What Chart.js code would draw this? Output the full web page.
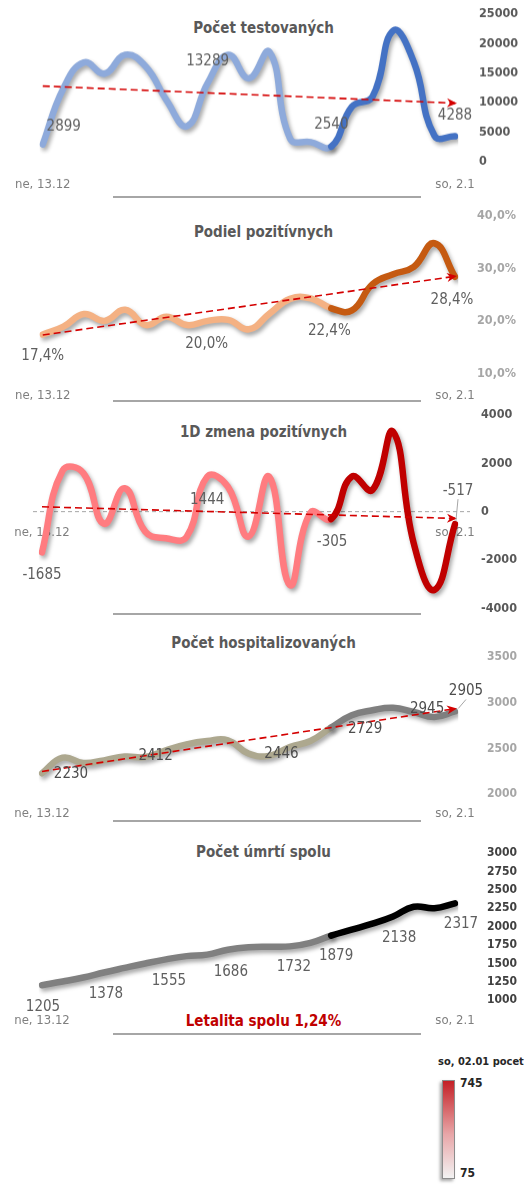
<!DOCTYPE html>
<html lang="sk">
<head>
<meta charset="utf-8">
<title>Prehľad 13.12 – 2.1</title>
<script src="https://cdn.jsdelivr.net/npm/chart.js@4"></script>
<style>
  html, body { margin: 0; padding: 0; background: #fff; }
  body { width: 532px; height: 1185px; position: relative; overflow: hidden;
         font-family: "DejaVu Sans Condensed", "DejaVu Sans", sans-serif; }
  .panel { position: absolute; left: 0; width: 532px; }
  .title { position: absolute; left: 0; width: 527px; text-align: center; font-weight: bold;
           font-size: 15px; line-height: 18px; color: #595959; }
  .sep { position: absolute; left: 113px; width: 308px; height: 2px; background: #a6a6a6; }
  #lethality { position: absolute; left: 0; width: 527px; top: 1012px; text-align: center;
               font-weight: bold; font-size: 15px; line-height: 18px; color: #c00000; }
  #legend-title { position: absolute; left: 438px; top: 1055px; font-size: 11px; line-height: 14px;
                  font-weight: bold; color: #262626; white-space: nowrap; }
  #legend-bar { position: absolute; left: 442px; top: 1080px; width: 11px; height: 97px;
                border: 1px solid #8c8c8c; box-shadow: -2px 2px 3px rgba(0,0,0,0.35);
                background: linear-gradient(to bottom, #c42026, #e8a6a8 55%, #f2f2f2); }
  .legend-val { position: absolute; left: 460px; font-size: 12px; line-height: 14px;
                font-weight: bold; color: #262626; }
</style>
</head>
<body>

<div class="title" style="top:19px">Počet testovaných</div>
<div class="title" style="top:223px">Podiel pozitívnych</div>
<div class="title" style="top:423px">1D zmena pozitívnych</div>
<div class="title" style="top:634px">Počet hospitalizovaných</div>
<div class="title" style="top:843px">Počet úmrtí spolu</div>

<div class="sep" style="top:196px"></div>
<div class="sep" style="top:400px"></div>
<div class="sep" style="top:613px"></div>
<div class="sep" style="top:820px"></div>
<div class="sep" style="top:1033px"></div>

<div id="lethality"></div>
<div id="legend-title"></div>
<div id="legend-bar"></div>
<div class="legend-val" id="legend-max" style="top:1076px"></div>
<div class="legend-val" id="legend-min" style="top:1166px"></div>

<script>
// days shown on the x axis (only first and last get a label)
const days = ["ne, 13.12", "po, 14.12", "ut, 15.12", "st, 16.12", "št, 17.12", "pi, 18.12", "so, 19.12",
  "ne, 20.12", "po, 21.12", "ut, 22.12", "st, 23.12", "št, 24.12", "pi, 25.12", "so, 26.12",
  "ne, 27.12", "po, 28.12", "ut, 29.12", "st, 30.12", "št, 31.12", "pi, 1.1", "so, 2.1"];

const tested = [2899, 12400, 16800, 14900, 18100, 16100, 10400, 6000, 13289, 18100, 14100,
  18600, 3900, 3300, 2540, 9300, 11000, 22200, 16900, 4400, 4288];
const testedTrend = [12800, 9900];
const testedTicks = [0, 5000, 10000, 15000, 20000, 25000];

const positiveShare = [17.4, 18.9, 21.3, 20.0, 22.1, 19.2, 20.8, 19.2, 20.0, 20.2, 18.4,
  21.4, 24.2, 24.3, 22.4, 22.0, 27.0, 28.9, 30.3, 34.8, 28.4];
const positiveShareTrend = [17.3, 28.5];
const positiveShareTicks = [10, 20, 30, 40];

const positiveChange = [-1685, 1700, 1600, -500, 966, -828, -1100, -1050, 1444, 1035, -1034,
  1449, -3034, -41, -305, 1449, 898, 3311, -1308, -3241, -517];
const positiveChangeTrend = [200, -280];
const positiveChangeTicks = [-4000, -2000, 0, 2000, 4000];

const hospitalized = [2230, 2400, 2342, 2371, 2412, 2407, 2481, 2546, 2582, 2590, 2446,
  2420, 2517, 2582, 2729, 2863, 2918, 2945, 2899, 2845, 2905];
const hospitalizedTrend = [2250, 2935];
const hospitalizedTicks = [2000, 2500, 3000, 3500];

const deaths = [1205, 1255, 1310, 1378, 1440, 1500, 1555, 1600, 1620, 1686, 1720,
  1728, 1732, 1780, 1879, 1960, 2040, 2138, 2270, 2250, 2317];
const deathsTicks = [1000, 1250, 1500, 1750, 2000, 2250, 2500, 2750, 3000];

const lethality = "1,24%";
const legendCaption = "so, 02.01 pocet";
const legendMax = 745;
const legendMin = 75;

document.getElementById("lethality").textContent = "Letalita spolu " + lethality;
document.getElementById("legend-title").textContent = legendCaption;
document.getElementById("legend-max").textContent = legendMax;
document.getElementById("legend-min").textContent = legendMin;

const FONT = '"DejaVu Sans Condensed", "DejaVu Sans", sans-serif';
Chart.defaults.font.family = FONT;

const lastIdx = days.length - 1;
const SPLIT = 14; // last week (from ne, 27.12) is drawn darker

const fmtInt = v => String(v);
const fmtPct = v => v.toFixed(1).replace(".", ",") + "%";

// trend line only has its two end values
function trendSeries(pair) {
  return days.map((d, i) => i === 0 ? pair[0] : (i === lastIdx ? pair[1] : null));
}

// soft drop shadow under the main line
const shadowPlugin = {
  id: "lineShadow",
  beforeDatasetDraw(chart, args) {
    if (args.index !== 0) return;
    const c = chart.ctx;
    c.save();
    c.shadowColor = "rgba(0,0,0,0.35)";
    c.shadowBlur = 4;
    c.shadowOffsetX = 2;
    c.shadowOffsetY = 3;
  },
  afterDatasetDraw(chart, args) {
    if (args.index === 0) chart.ctx.restore();
  }
};

// arrow head at the end of the trend line
const arrowPlugin = {
  id: "trendArrow",
  afterDatasetsDraw(chart) {
    chart.data.datasets.forEach((d, di) => {
      if (!d.isTrend) return;
      const pts = chart.getDatasetMeta(di).data;
      const a = pts[0], b = pts[pts.length - 1];
      const ang = Math.atan2(b.y - a.y, b.x - a.x);
      const c = chart.ctx;
      c.save();
      c.translate(b.x, b.y);
      c.rotate(ang);
      c.fillStyle = d.borderColor;
      c.beginPath();
      c.moveTo(2, 0); c.lineTo(-8, -4.5); c.lineTo(-5, 0); c.lineTo(-8, 4.5);
      c.closePath();
      c.fill();
      c.restore();
    });
  }
};

// dashed zero line for the daily change chart
const zeroLinePlugin = {
  id: "zeroLine",
  beforeDatasetsDraw(chart) {
    const y = chart.scales.y.getPixelForValue(0);
    const c = chart.ctx;
    c.save();
    c.strokeStyle = "#a6a6a6";
    c.lineWidth = 1;
    c.setLineDash([4, 3]);
    c.beginPath();
    c.moveTo(chart.chartArea.left - 9, y);
    c.lineTo(chart.chartArea.right + 15, y);
    c.stroke();
    c.restore();
  }
};

function addPanel(p) {
  const box = document.createElement("div");
  box.className = "panel";
  box.style.top = p.top + "px";
  box.style.height = p.height + "px";
  const cv = document.createElement("canvas");
  box.appendChild(cv);
  document.body.appendChild(box);

  // value labels next to some points
  const labelPlugin = {
    id: "valueLabels",
    afterDatasetsDraw(chart) {
      const pts = chart.getDatasetMeta(0).data;
      const c = chart.ctx;
      c.save();
      c.font = "15px " + FONT;
      c.textAlign = "center";
      c.textBaseline = "middle";
      p.labels.forEach(l => {
        const pt = pts[l.i];
        const x = pt.x + l.dx, y = pt.y + l.dy;
        if (l.leader) {
          c.strokeStyle = "#a6a6a6";
          c.lineWidth = 1;
          c.beginPath();
          c.moveTo(x, y + 8);
          c.lineTo(pt.x + (x - pt.x) * 0.3, pt.y - 3);
          c.stroke();
        }
        c.fillStyle = p.labelColor;
        c.fillText(p.fmt(p.values[l.i]), x, y);
      });
      c.restore();
    }
  };

  const datasets = [{
    data: p.values,
    borderColor: p.light,
    borderWidth: 6.5,
    borderCapStyle: "round",
    borderJoinStyle: "round",
    tension: 0.45,
    pointRadius: 0,
    order: 2,
    segment: { borderColor: s => s.p0DataIndex >= SPLIT ? p.dark : p.light }
  }];
  if (p.trend) {
    datasets.push({
      data: trendSeries(p.trend),
      isTrend: true,
      spanGaps: true,
      borderColor: "#d40000",
      borderWidth: 1.6,
      borderDash: [7, 4],
      pointRadius: 0,
      tension: 0,
      order: 1
    });
  }

  const xScale = {
    position: p.xPos || "bottom",
    offset: false,
    grid: { display: false, drawTicks: false },
    border: { display: false },
    ticks: {
      autoSkip: false, maxRotation: 0, padding: p.xPad, color: "#7f7f7f", font: { size: 13 },
      callback: (v, i) => (i === 0 || i === lastIdx) ? days[i] : ""
    }
  };
  if (!p.xPos) xScale.afterFit = s => { s.height = 32; };

  new Chart(cv, {
    type: "line",
    data: { labels: days, datasets },
    options: {
      responsive: true,
      maintainAspectRatio: false,
      animation: false,
      events: [],
      layout: { padding: { left: 42, right: 0, top: 10, bottom: p.padBottom || 0 } },
      plugins: { legend: { display: false }, tooltip: { enabled: false } },
      scales: {
        x: xScale,
        y: {
          position: "right",
          min: p.ticks[0],
          max: p.ticks[p.ticks.length - 1],
          // gap to the labels via tick length, so it does not add vertical padding
          grid: { display: false, drawTicks: true, tickLength: p.yGap },
          border: { display: false },
          afterBuildTicks: s => { s.ticks = p.ticks.map(v => ({ value: v })); },
          ticks: {
            padding: 0, color: p.tickColor,
            font: { size: p.tickSize, weight: "bold" },
            callback: v => p.tickFmt(v)
          },
          afterFit: s => { s.width = 77; }
        }
      }
    },
    plugins: [shadowPlugin, arrowPlugin, labelPlugin].concat(p.extra || [])
  });
}

addPanel({
  top: 4.3, height: 188.7, values: tested, trend: testedTrend, ticks: testedTicks,
  light: "#8eaadb", dark: "#4472c4", fmt: fmtInt, tickFmt: fmtInt,
  tickColor: "#595959", tickSize: 12.5, yGap: 24, xPad: 15, labelColor: "#5f5f5f",
  labels: [{ i: 0, dx: 21, dy: -18 }, { i: 8, dx: 0, dy: -22 }, { i: 14, dx: 0, dy: -22 }, { i: 20, dx: 0, dy: -20 }]
});

addPanel({
  top: 206, height: 199.3, values: positiveShare, trend: positiveShareTrend, ticks: positiveShareTicks,
  light: "#f4b183", dark: "#c55a11", fmt: fmtPct, tickFmt: fmtPct,
  tickColor: "#a6a6a6", tickSize: 12.5, yGap: 22, xPad: 15, labelColor: "#5f5f5f",
  labels: [{ i: 0, dx: 0, dy: 22 }, { i: 8, dx: -1, dy: 23 }, { i: 14, dx: -2, dy: 23 }, { i: 20, dx: -3, dy: 23 }]
});

addPanel({
  top: 405, height: 213.3, padBottom: 10, xPos: { y: 0 }, values: positiveChange, trend: positiveChangeTrend,
  ticks: positiveChangeTicks, light: "#ff7c80", dark: "#c00000", fmt: fmtInt, tickFmt: fmtInt,
  tickColor: "#595959", tickSize: 12.5, yGap: 26, xPad: 13, labelColor: "#5f5f5f",
  labels: [{ i: 0, dx: 0, dy: 23 }, { i: 8, dx: 0, dy: 23 }, { i: 14, dx: 1, dy: 23 }, { i: 20, dx: 3, dy: -33, leader: true }],
  extra: [zeroLinePlugin]
});

addPanel({
  top: 646.7, height: 179.3, values: hospitalized, trend: hospitalizedTrend, ticks: hospitalizedTicks,
  light: "#ada88f", dark: "#7f7f7f", fmt: fmtInt, tickFmt: fmtInt,
  tickColor: "#a6a6a6", tickSize: 12, yGap: 32, xPad: 12, labelColor: "#4d4d4d",
  labels: [{ i: 0, dx: 29, dy: 1 }, { i: 4, dx: 31, dy: 0 }, { i: 10, dx: 33, dy: 1 }, { i: 14, dx: 34, dy: 2 },
           { i: 17, dx: 34, dy: 1 }, { i: 20, dx: 11, dy: -20, leader: true }]
});

addPanel({
  top: 842.7, height: 189.3, values: deaths, ticks: deathsTicks,
  light: "#808080", dark: "#000000", fmt: fmtInt, tickFmt: fmtInt,
  tickColor: "#404040", tickSize: 12, yGap: 32, xPad: 13, labelColor: "#5f5f5f",
  labels: [{ i: 0, dx: 1, dy: 22 }, { i: 3, dx: 2, dy: 22 }, { i: 6, dx: 3, dy: 22 }, { i: 9, dx: 3, dy: 22 },
           { i: 12, dx: 4, dy: 21 }, { i: 14, dx: 5, dy: 21 }, { i: 17, dx: 6, dy: 22 }, { i: 20, dx: 6, dy: 21 }]
});
</script>
</body>
</html>
